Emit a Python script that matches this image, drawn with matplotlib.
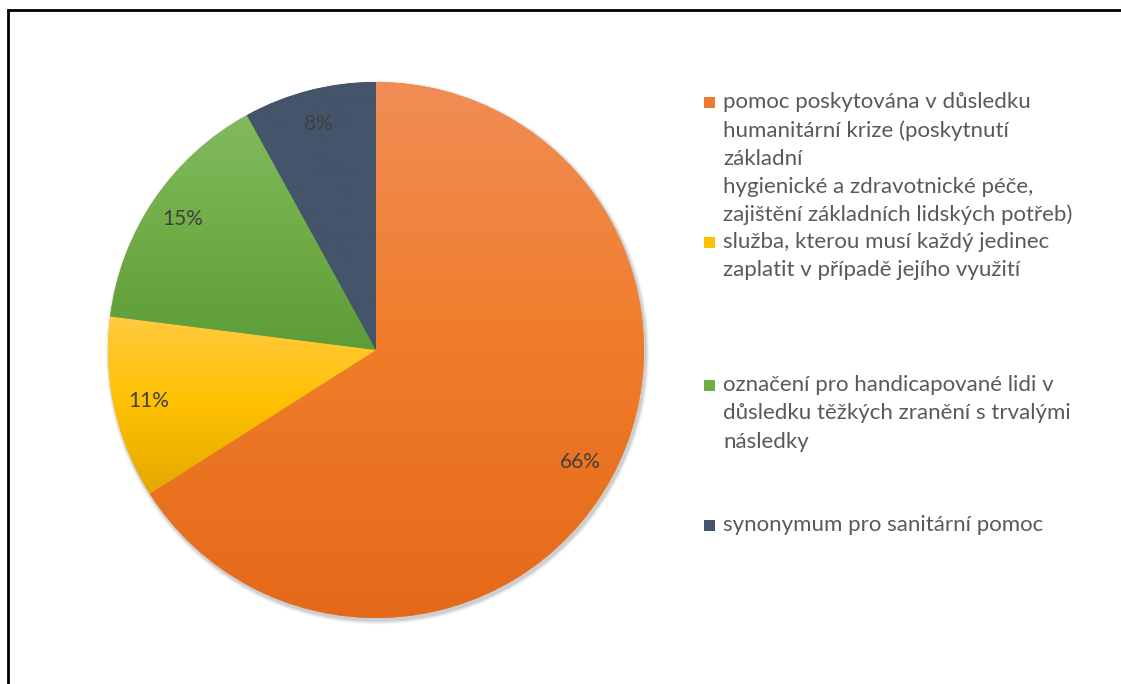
import numpy as np
import matplotlib
matplotlib.use("Agg")
import matplotlib.pyplot as plt
from matplotlib.colors import LinearSegmentedColormap
from matplotlib.patches import Rectangle, Circle

# data
categories = [
    "pomoc poskytována v důsledku\nhumanitární krize (poskytnutí\nzákladní\nhygienické a zdravotnické péče,\nzajištění základních lidských potřeb)",
    "služba, kterou musí každý jedinec\nzaplatit v případě jejího využití",
    "označení pro handicapované lidi v\ndůsledku těžkých zranění s trvalými\nnásledky",
    "synonymum pro sanitární pomoc",
]
shares = [66, 11, 15, 8]
pct_labels = ["66%", "11%", "15%", "8%"]

# gradient colours (top, middle, bottom) per slice, Excel-like
grad_stops = [
    ["#F18D55", "#F07C29", "#E4691A"],
    ["#FFCB42", "#FFC000", "#E3A900"],
    ["#82BA5E", "#70AD47", "#5E9C37"],
    ["#44546A", "#44546A", "#44546A"],
]
legend_colors = ["#EC7A30", "#FFC000", "#70AD47", "#44546A"]

W, H = 1121, 684
FONT = ["Lato", "DejaVu Sans"]

fig = plt.figure(figsize=(W / 100, H / 100), dpi=100)
ax = fig.add_axes([0, 0, 1, 1])

cx, cy, r = 376, H - 350, 268

# soft shadow behind the pie
for i, a in enumerate(np.linspace(0.06, 0.02, 5)):
    ax.add_patch(Circle((cx + 1.5, cy - 2.5), r + 1 + i * 0.8,
                        facecolor="black", alpha=a, edgecolor="none", zorder=1))

wedges, texts = ax.pie(shares, center=(cx, cy), radius=r, startangle=90,
                       counterclock=False, colors=legend_colors,
                       wedgeprops=dict(linewidth=0, zorder=2), frame=True)
ax.set_xlim(0, W)
ax.set_ylim(0, H)
ax.set_aspect("auto")
ax.axis("off")

# vertical gradient inside each wedge
grad = np.linspace(0, 1, 256).reshape(-1, 1)
for w, stops in zip(wedges, grad_stops):
    ext = w.get_path().get_extents()
    cmap = LinearSegmentedColormap.from_list("g", stops)
    im = ax.imshow(grad, cmap=cmap, aspect="auto", zorder=3,
                   extent=[ext.x0, ext.x1, ext.y0, ext.y1], origin="upper")
    im.set_clip_path(w)

# percentage labels
for w, lab in zip(wedges, pct_labels):
    ang = np.deg2rad((w.theta1 + w.theta2) / 2)
    d = 0.87 * r
    ax.text(cx + d * np.cos(ang), cy + d * np.sin(ang), lab, ha="center",
            va="center", fontsize=15, color="#404040", family=FONT, zorder=5)

# legend, drawn by hand to follow Excel's wrapping
entry_y = [102, 242, 385, 525]
line_h = 28.3
for lab, col, y0 in zip(categories, legend_colors, entry_y):
    ax.add_patch(Rectangle((704, H - y0 - 5.5), 11, 11, facecolor=col,
                           edgecolor="none", zorder=5))
    for k, line in enumerate(lab.split("\n")):
        ax.text(723, H - (y0 + k * line_h), line, ha="left", va="center",
                fontsize=16, color="#595959", family=FONT, zorder=5)

# chart border (top and left edges visible)
ax.plot([8, 8, W + 5], [-5, H - 10, H - 10], color="black", lw=2,
        solid_joinstyle="miter", zorder=6, clip_on=False)

fig.savefig("out.png", dpi=100, facecolor="white")
